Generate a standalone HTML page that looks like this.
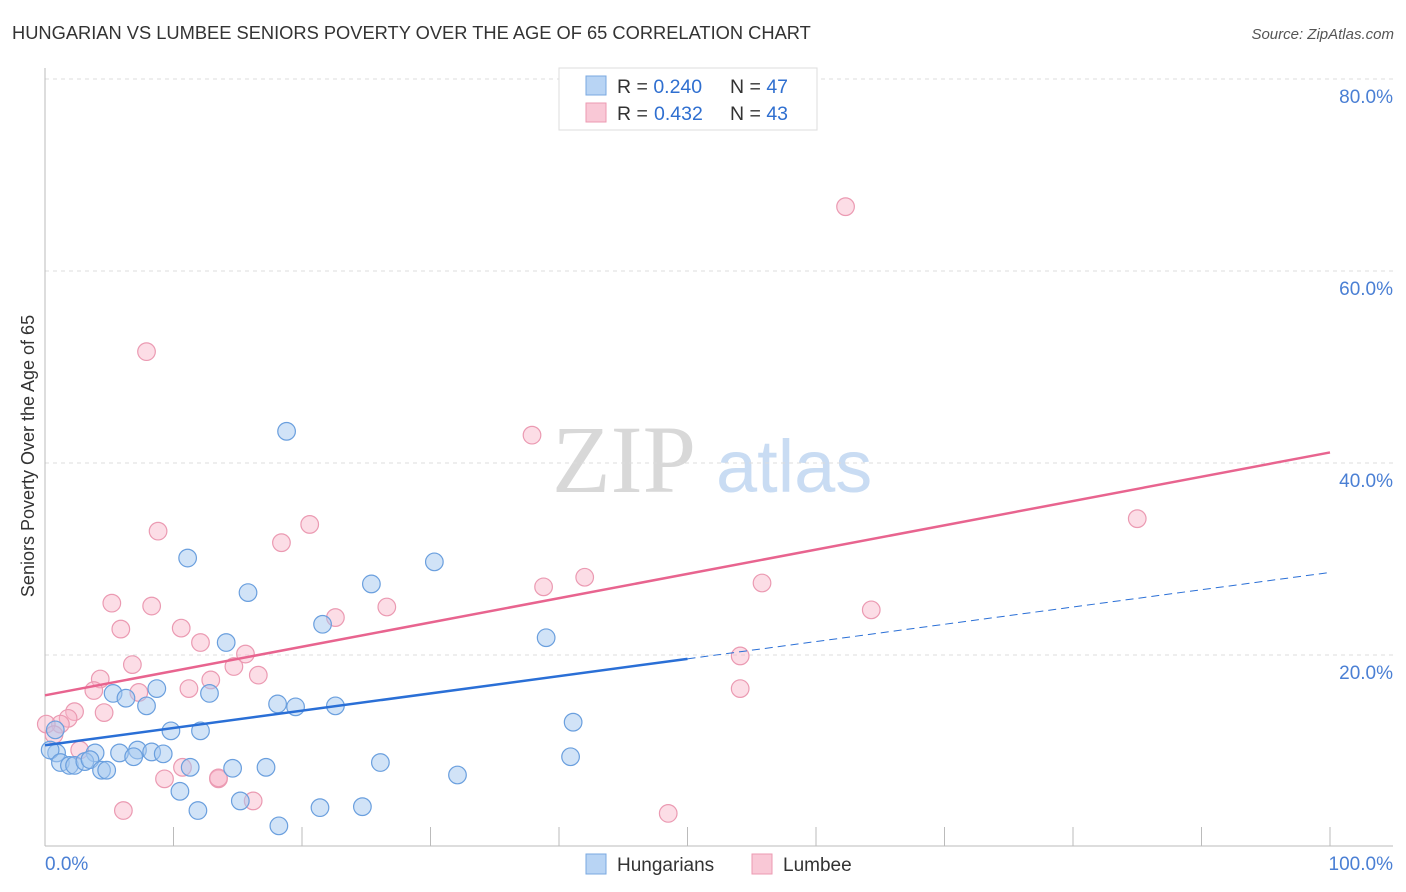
<!DOCTYPE html>
<html><head><meta charset="utf-8"><style>
body{margin:0;background:#fff;font-family:"Liberation Sans",sans-serif;}
svg{display:block}
</style></head><body>
<svg id="chart" width="1406" height="892" viewBox="0 0 1406 892" xmlns="http://www.w3.org/2000/svg">
<text x="12" y="39" font-size="18.3" fill="#333">HUNGARIAN VS LUMBEE SENIORS POVERTY OVER THE AGE OF 65 CORRELATION CHART</text>
<text x="1394" y="39" font-size="15" font-style="italic" fill="#555" text-anchor="end">Source: ZipAtlas.com</text>
<g>
<text x="552" y="492" font-family="Liberation Serif,serif" font-size="96" fill="#d8d8d8">ZIP</text>
<text x="716" y="492" font-size="74" fill="#c9dcf3">atlas</text>
</g>
<g id="grid"></g>
<g id="axes"></g>
<g id="pts"></g>
<g id="trends"></g>
<text transform="translate(34,456) rotate(-90)" font-size="18" fill="#333" text-anchor="middle">Seniors Poverty Over the Age of 65</text>
<g>
<rect x="559" y="68" width="258" height="62" fill="#fff" stroke="#ddd"/>
<rect x="586" y="76" width="20" height="19" fill="#b8d4f4" stroke="#7aa8e0"/>
<text x="617" y="93" font-size="19.5" fill="#333">R = <tspan fill="#2f6fd0">0.240</tspan><tspan x="730">N = </tspan><tspan fill="#2f6fd0">47</tspan></text>
<rect x="586" y="103" width="20" height="19" fill="#f9c8d6" stroke="#ec9ab2"/>
<text x="617" y="120" font-size="19.5" fill="#333">R = <tspan fill="#2f6fd0" x="654">0.432</tspan><tspan x="730">N = </tspan><tspan fill="#2f6fd0">43</tspan></text>
</g>
<g>
<rect x="586" y="854" width="20" height="20" fill="#b8d4f4" stroke="#7aa8e0"/>
<text x="617" y="871" font-size="19" fill="#333">Hungarians</text>
<rect x="752" y="854" width="20" height="20" fill="#f9c8d6" stroke="#ec9ab2"/>
<text x="783" y="871" font-size="19" fill="#333">Lumbee</text>
</g>
</svg>
<script>
const hungX=[18.8,11.1,15.8,25.4,30.3,21.6,14.1,39.0,5.3,6.3,8.7,12.8,7.9,18.1,19.5,22.6,9.8,12.1,41.1,3.9,5.8,7.2,8.3,9.2,6.9,0.9,0.8,0.4,1.2,1.9,2.3,3.1,3.5,4.4,4.8,11.3,14.6,17.2,26.1,32.1,40.9,10.5,15.2,11.9,21.4,24.7,18.2];
const hungY=[43.3,30.1,26.5,27.4,29.7,23.2,21.3,21.8,16.0,15.5,16.5,16.0,14.7,14.9,14.6,14.7,12.1,12.1,13.0,9.8,9.8,10.1,9.9,9.7,9.4,9.8,12.2,10.1,8.8,8.5,8.5,8.9,9.1,8.0,8.0,8.3,8.2,8.3,8.8,7.5,9.4,5.8,4.8,3.8,4.1,4.2,2.2];
const lumX=[62.3,7.9,37.9,85.0,8.8,20.6,18.4,42.0,38.8,55.8,5.2,8.3,26.6,22.6,5.9,10.6,12.1,15.6,54.1,64.3,6.8,14.7,16.6,4.3,12.9,3.8,7.3,11.2,54.1,4.6,2.3,1.8,1.2,0.1,0.7,2.7,10.7,9.3,13.5,16.2,6.1,48.5,13.5];
const lumY=[66.7,51.6,42.9,34.2,32.9,33.6,31.7,28.1,27.1,27.5,25.4,25.1,25.0,23.9,22.7,22.8,21.3,20.1,19.9,24.7,19.0,18.8,17.9,17.5,17.4,16.3,16.1,16.5,16.5,14.0,14.1,13.4,12.8,12.8,11.7,10.1,8.3,7.1,7.1,4.8,3.8,3.5,7.2];
const yTicks=[20,40,60,80];
const yTickLabels=["20.0%","40.0%","60.0%","80.0%"];
const xTicks=[0,10,20,30,40,50,60,70,80,90,100];
const xTickLabels=["0.0%","100.0%"];
const hungTrend=[10.6,28.6];
const lumTrend=[15.8,41.1];
const hungSolidEnd=50;

const NS="http://www.w3.org/2000/svg";
const sx=v=>45+v*12.85, sy=v=>847-v*9.6;
function mk(p,t,a){const e=document.createElementNS(NS,t);for(const k in a)e.setAttribute(k,a[k]);p.appendChild(e);return e;}
const grid=document.getElementById('grid'),axes=document.getElementById('axes'),pts=document.getElementById('pts'),tr=document.getElementById('trends');
yTicks.forEach((t,i)=>{
 const l=mk(grid,'line',{x1:45,x2:1393,y1:sy(t),y2:sy(t),stroke:'#ddd','stroke-dasharray':'4,4'});
 
 
 const tx=mk(axes,'text',{x:1393,y:sy(t)+24,'font-size':19,fill:'#4a7fd4','text-anchor':'end'});
 tx.textContent=yTickLabels[i];
 
 
});
const ax=mk(axes,'line',{x1:45,x2:45,y1:68,y2:846,stroke:'#bbb'});


const bx=mk(axes,'line',{x1:45,x2:1393,y1:846,y2:846,stroke:'#bbb'});


xTicks.forEach(t=>{
 const l=mk(axes,'line',{x1:sx(t),x2:sx(t),y1:827,y2:846,stroke:'#bbb'});
 
 
});
const x0=mk(axes,'text',{x:45,y:870,'font-size':19,fill:'#4a7fd4'});x0.textContent=xTickLabels[0];


const x1=mk(axes,'text',{x:1393,y:870,'font-size':19,fill:'#4a7fd4','text-anchor':'end'});x1.textContent=xTickLabels[1];


lumX.forEach((x,i)=>{
 const c=mk(pts,'circle',{cx:sx(x),cy:sy(lumY[i]),r:8.8,fill:'rgba(248,180,200,0.45)',stroke:'#eb9ab2','stroke-width':1.2});
 
 
});
hungX.forEach((x,i)=>{
 const c=mk(pts,'circle',{cx:sx(x),cy:sy(hungY[i]),r:8.8,fill:'rgba(164,200,240,0.5)',stroke:'#6a9fde','stroke-width':1.2});
 
 
});
const hAt=x=>hungTrend[0]+(hungTrend[1]-hungTrend[0])*x/100;
const l1=mk(tr,'line',{x1:sx(0),y1:sy(hungTrend[0]),x2:sx(hungSolidEnd),y2:sy(hAt(hungSolidEnd)),stroke:'#2a6fd6','stroke-width':2.5});


const l2=mk(tr,'line',{x1:sx(hungSolidEnd),y1:sy(hAt(hungSolidEnd)),x2:sx(100),y2:sy(hungTrend[1]),stroke:'#2a6fd6','stroke-width':1,'stroke-dasharray':'8,5'});


const l3=mk(tr,'line',{x1:sx(0),y1:sy(lumTrend[0]),x2:sx(100),y2:sy(lumTrend[1]),stroke:'#e8648f','stroke-width':2.5});


</script>
</body></html>
